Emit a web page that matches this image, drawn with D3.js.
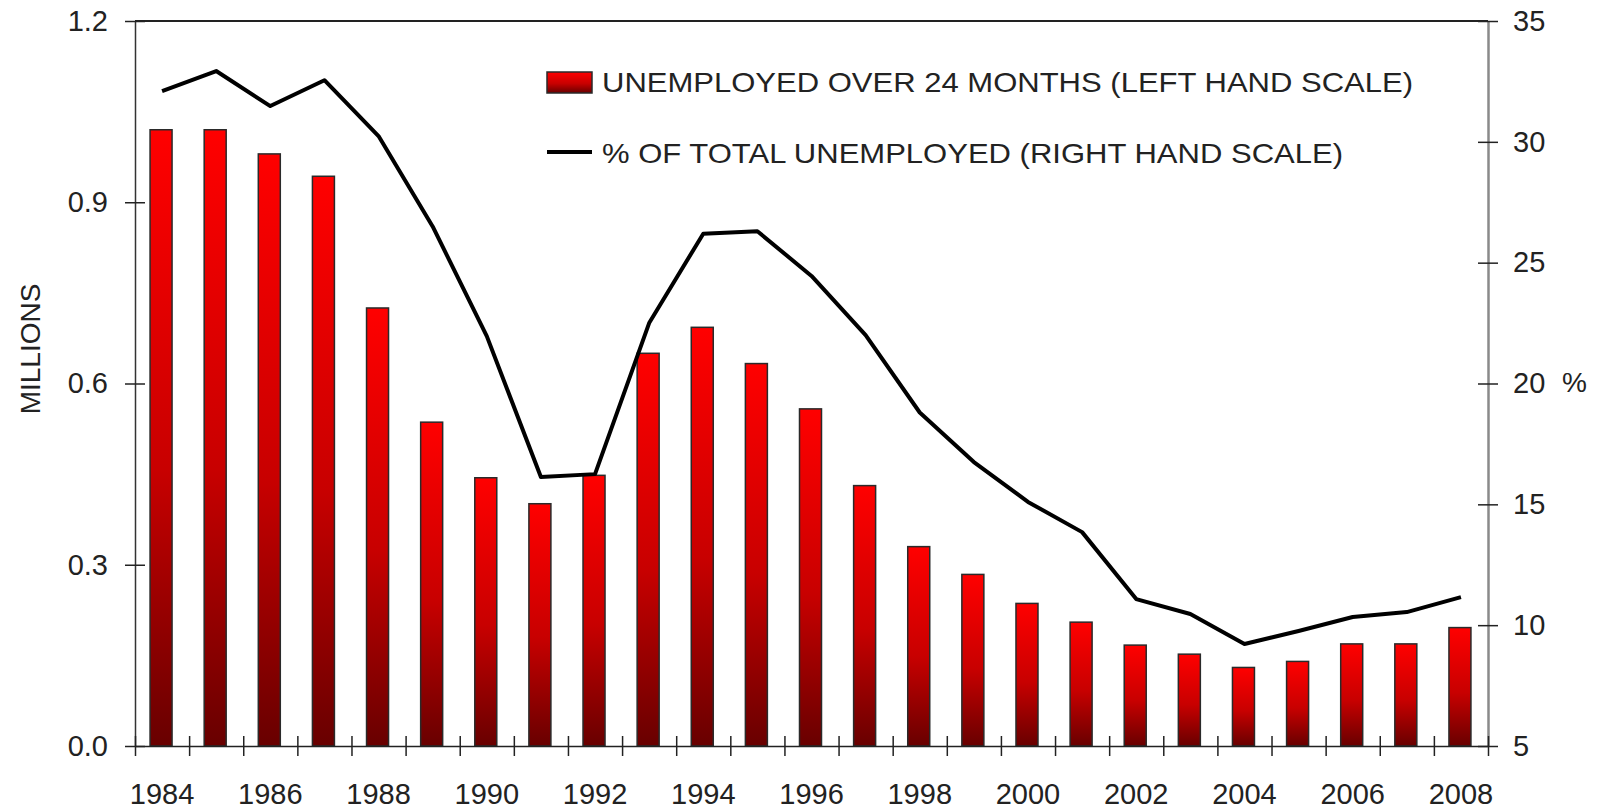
<!DOCTYPE html>
<html>
<head>
<meta charset="utf-8">
<script src="https://cdn.jsdelivr.net/npm/d3@7"></script>
<style>
  body { margin: 0; background: #fff; }
  text { font-family: "Liberation Sans", Arial, sans-serif; fill: #222; }
</style>
</head>
<body>
<script>
// data
var years = d3.range(1984, 2009).map(String);
var longTerm = [1.02, 1.02, 0.98, 0.943, 0.725, 0.536, 0.444, 0.401, 0.448, 0.650,
                0.693, 0.633, 0.558, 0.431, 0.330, 0.284, 0.236, 0.205, 0.167, 0.152,
                0.130, 0.140, 0.169, 0.169, 0.196];
var pctTotal = [32.1, 32.93, 31.48, 32.55, 30.24, 26.5, 21.96, 16.13, 16.25, 22.5,
                26.2, 26.3, 24.45, 22.0, 18.8, 16.75, 15.1, 13.85, 11.08, 10.46,
                9.22, 9.76, 10.34, 10.54, 11.16];
var leftTicks = [0, 0.3, 0.6, 0.9, 1.2];
var rightTicks = [5, 10, 15, 20, 25, 30, 35];
var barLabel = "UNEMPLOYED OVER 24 MONTHS (LEFT HAND SCALE)";
var lineLabel = "% OF TOTAL UNEMPLOYED (RIGHT HAND SCALE)";

var svg = d3.select("body").append("svg")
    .attr("width", 1597)
    .attr("height", 812);

var plotLeft = 135, plotRight = 1488, plotTop = 21, plotBottom = 746;

var x = d3.scaleBand().domain(years).range([plotLeft, plotRight]).padding(0);
var xEdge = d3.scaleLinear().domain([0, years.length]).range([plotLeft, plotRight]);
var yL = d3.scaleLinear().domain([0, 1.2]).range([plotBottom, plotTop]);
var yR = d3.scaleLinear().domain([5, 35]).range([plotBottom, plotTop]);

var defs = svg.append("defs");
var grad = defs.append("linearGradient")
    .attr("id", "barGrad")
    .attr("x1", 0).attr("y1", 0).attr("x2", 0).attr("y2", 1);
grad.append("stop").attr("offset", "0%").attr("stop-color", "#ff0000");
grad.append("stop").attr("offset", "55%").attr("stop-color", "#c80000");
grad.append("stop").attr("offset", "100%").attr("stop-color", "#680000");

// bars
var barW = 22;
svg.append("g").selectAll("rect")
    .data(longTerm)
    .enter().append("rect")
      .attr("x", function(d, i) { return x(years[i]) + x.bandwidth() / 2 - barW / 2 - 1; })
      .attr("y", function(d) { return yL(d); })
      .attr("width", barW)
      .attr("height", function(d) { return yL(0) - yL(d); })
      .attr("fill", "url(#barGrad)")
      .attr("stroke", "#2a2a2a")
      .attr("stroke-width", 1.5);

// top frame line
svg.append("line")
    .attr("x1", plotLeft).attr("x2", plotRight)
    .attr("y1", plotTop).attr("y2", plotTop)
    .attr("stroke", "#222").attr("stroke-width", 2);

// left axis
var gL = svg.append("g")
    .attr("transform", "translate(" + plotLeft + ",0)")
    .call(d3.axisLeft(yL).tickValues(leftTicks).tickFormat(d3.format(".1f"))
      .tickSize(10).tickSizeOuter(0).tickPadding(17));
gL.select(".domain").attr("stroke", "#333").attr("stroke-width", 1.5);
gL.selectAll(".tick line").attr("x1", 10).attr("stroke", "#222").attr("stroke-width", 1.5);
gL.selectAll(".tick text").style("font-size", "29px").attr("fill", "#222");

// right axis
var gR = svg.append("g")
    .attr("transform", "translate(" + plotRight + ",0)")
    .call(d3.axisRight(yR).tickValues(rightTicks)
      .tickSize(10).tickSizeOuter(0).tickPadding(15));
gR.select(".domain").attr("stroke", "#8a8a8a").attr("stroke-width", 2.5);
gR.selectAll(".tick line").attr("x1", -10).attr("stroke", "#222").attr("stroke-width", 1.5);
gR.selectAll(".tick text").style("font-size", "29px").attr("fill", "#222");

// bottom axis: ticks at category edges, labels on alternate years
var gB = svg.append("g")
    .attr("transform", "translate(0," + plotBottom + ")")
    .call(d3.axisBottom(xEdge).tickValues(d3.range(0, years.length + 1))
      .tickFormat("").tickSize(10).tickSizeOuter(0));
gB.select(".domain").attr("stroke", "#222").attr("stroke-width", 1.5);
gB.selectAll(".tick line").attr("y1", -10).attr("stroke", "#222").attr("stroke-width", 1.5);

var gBL = svg.append("g")
    .attr("transform", "translate(0," + plotBottom + ")")
    .call(d3.axisBottom(x).tickValues(years.filter(function(d, i) { return i % 2 === 0; }))
      .tickSize(0).tickPadding(37));
gBL.select(".domain").remove();
gBL.selectAll(".tick text").style("font-size", "29px").attr("fill", "#222");

// line
var line = d3.line()
    .x(function(d, i) { return x(years[i]) + x.bandwidth() / 2; })
    .y(function(d) { return yR(d); });
svg.append("path")
    .datum(pctTotal)
    .attr("d", line)
    .attr("fill", "none")
    .attr("stroke", "#000")
    .attr("stroke-width", 4)
    .attr("stroke-linejoin", "round");

// axis titles
svg.append("text")
    .attr("transform", "translate(40,349) rotate(-90)")
    .attr("text-anchor", "middle")
    .style("font-size", "28px")
    .text("MILLIONS");
svg.append("text")
    .attr("x", 1562).attr("y", 392)
    .style("font-size", "28px")
    .text("%");

// legend
var legend = svg.append("g");
legend.append("rect")
    .attr("x", 547).attr("y", 72)
    .attr("width", 45).attr("height", 21)
    .attr("fill", "url(#barGrad)")
    .attr("stroke", "#2a2a2a").attr("stroke-width", 1.5);
legend.append("text")
    .attr("x", 602).attr("y", 92)
    .attr("textLength", 811).attr("lengthAdjust", "spacingAndGlyphs")
    .style("font-size", "28px")
    .text(barLabel);
legend.append("line")
    .attr("x1", 547).attr("x2", 592)
    .attr("y1", 152).attr("y2", 152)
    .attr("stroke", "#000").attr("stroke-width", 4);
legend.append("text")
    .attr("x", 602).attr("y", 163)
    .attr("textLength", 741).attr("lengthAdjust", "spacingAndGlyphs")
    .style("font-size", "28px")
    .text(lineLabel);
</script>
</body>
</html>
